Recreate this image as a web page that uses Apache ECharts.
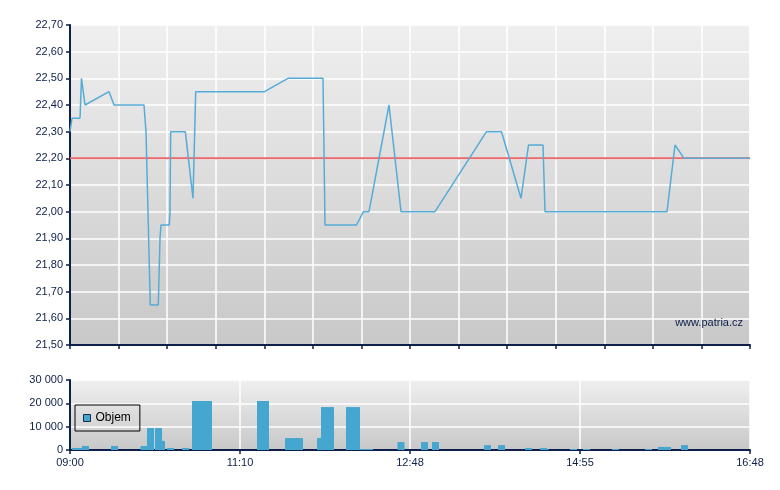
<!DOCTYPE html>
<html>
<head>
<meta charset="utf-8">
<script src="https://cdn.jsdelivr.net/npm/echarts@6/dist/echarts.min.js"></script>
<style>
html,body{margin:0;padding:0;background:#fff;}
#c{width:780px;height:490px;}
</style>
</head>
<body>
<div id="c"></div>
<script>
// ---- data ----
// x positions are session positions on an ordinal scale 0..680 (09:00 .. 16:48)
var pricePos = [0, 2, 10, 11.5, 15, 39, 44, 74, 76, 78, 80.3, 88.3, 90, 91, 99.3, 100, 100.7, 115.3, 123, 125.7, 194.5, 218, 253, 255, 286.5, 293.5, 299, 319, 331, 365, 416.5, 431.5, 451, 458.5, 473, 475, 597, 605, 614, 680];
var priceValues = [22.30, 22.35, 22.35, 22.50, 22.40, 22.45, 22.40, 22.40, 22.30, 22.30, 21.65, 21.65, 21.90, 21.95, 21.95, 22.00, 22.30, 22.30, 22.05, 22.45, 22.45, 22.50, 22.50, 21.95, 21.95, 22.00, 22.00, 22.40, 22.00, 22.00, 22.30, 22.30, 22.05, 22.25, 22.25, 22.00, 22.00, 22.25, 22.20, 22.20];
var refPrice = 22.20;
var volPos = [5.5, 8.5, 15.5, 44.5, 74, 91.5, 80.5, 88.5, 100.5, 115.5, 125.5, 132, 138.5, 190.5, 195.5, 218.5, 225, 229.5, 250.5, 254.5, 260.5, 279.5, 286.5, 293.5, 299.5, 331, 354.5, 365.5, 417.5, 431.5, 458.5, 475, 473.5, 503.5, 516.5, 545.5, 578.5, 591.5, 597.5, 614.5];
var volValues = [860, 860, 1700, 1700, 1700, 3900, 9400, 9400, 860, 860, 21000, 21000, 21000, 21000, 21000, 5100, 5100, 5100, 5100, 18400, 18400, 18400, 18400, 430, 430, 3400, 3400, 3400, 2100, 2100, 860, 430, 860, 430, 430, 430, 430, 1300, 1300, 2100];
var timeLabels = ['09:00', '11:10', '12:48', '14:55', '16:48'];
var seriesName = 'Objem';
var watermark = 'www.patria.cz';

// ---- chart ----
var XMAX = 680;
var navy = '#0d1f4a';
var font = 'Liberation Sans, Arial, sans-serif';
function bg() {
  return new echarts.graphic.LinearGradient(0, 0, 0, 1, [
    {offset: 0, color: '#efefef'}, {offset: 1, color: '#c8c8c8'}
  ]);
}
var chart = echarts.init(document.getElementById('c'), null, {renderer: 'canvas'});
var priceData = pricePos.map(function (p, i) { return [p, priceValues[i]]; });
var volData = volPos.map(function (p, i) { return [p, volValues[i]]; });

var axisLine = {show: true, lineStyle: {color: navy, width: 2}};
var axisTick = {show: true, length: 4, lineStyle: {color: navy, width: 1.5}};
var splitLine = {show: true, lineStyle: {color: '#ffffff', width: 1.5}};

chart.setOption({
  animation: false,
  textStyle: {fontFamily: font},
  grid: [
    {left: 70, right: 30, top: 25, height: 320, show: true, backgroundColor: bg(), borderWidth: 0},
    {left: 70, right: 30, top: 380, height: 70, show: true, backgroundColor: bg(), borderWidth: 0}
  ],
  xAxis: [
    {type: 'value', gridIndex: 0, min: 0, max: XMAX, interval: XMAX / 14,
     axisLine: axisLine, axisTick: axisTick, axisLabel: {show: false}, splitLine: splitLine},
    {type: 'value', gridIndex: 1, min: 0, max: XMAX, interval: XMAX / 4,
     axisLine: axisLine, axisTick: axisTick, splitLine: splitLine,
     axisLabel: {color: navy, fontSize: 11, fontFamily: font, margin: 7,
       formatter: function (v) { return timeLabels[Math.round(v / (XMAX / 4))] || ''; }}}
  ],
  yAxis: [
    {type: 'value', gridIndex: 0, min: 21.5, max: 22.7, interval: 0.1,
     axisLine: axisLine, axisTick: axisTick, splitLine: splitLine,
     axisLabel: {color: navy, fontSize: 11, fontFamily: font, margin: 7,
       formatter: function (v) { return v.toFixed(2).replace('.', ','); }}},
    {type: 'value', gridIndex: 1, min: 0, max: 30000, interval: 10000,
     axisLine: axisLine, axisTick: axisTick, splitLine: splitLine,
     axisLabel: {color: navy, fontSize: 11, fontFamily: font, margin: 7,
       formatter: function (v) { return String(v).replace(/\B(?=(\d{3})+(?!\d))/g, ' '); }}}
  ],
  legend: {
    data: [seriesName], left: 75, top: 405, orient: 'vertical',
    padding: [7, 9, 7, 8], itemWidth: 7, itemHeight: 7, itemGap: 0,
    borderColor: '#000', borderWidth: 1, backgroundColor: 'transparent',
    icon: 'rect', itemStyle: {borderColor: '#1a2a4a', borderWidth: 1},
    textStyle: {color: '#000', fontSize: 12, fontFamily: font, padding: [0, 0, 0, 0]}
  },
  graphic: [
    {type: 'text', right: 37, top: 317, silent: true, z: 100, zlevel: 0,
     style: {text: watermark, fill: navy, font: '11px ' + font}}
  ],
  series: [
    {name: 'ref', type: 'line', xAxisIndex: 0, yAxisIndex: 0, z: 1, symbol: 'none',
     data: [[0, refPrice], [XMAX, refPrice]], lineStyle: {color: '#e86a6a', width: 2}},
    {name: 'price', type: 'line', xAxisIndex: 0, yAxisIndex: 0, z: 3, symbol: 'none',
     data: priceData, lineStyle: {color: '#55acd6', width: 1.5}},
    {name: seriesName, type: 'bar', xAxisIndex: 1, yAxisIndex: 1, barWidth: 7,
     data: volData, itemStyle: {color: '#45a6cf'}}
  ]
});
</script>
</body>
</html>
